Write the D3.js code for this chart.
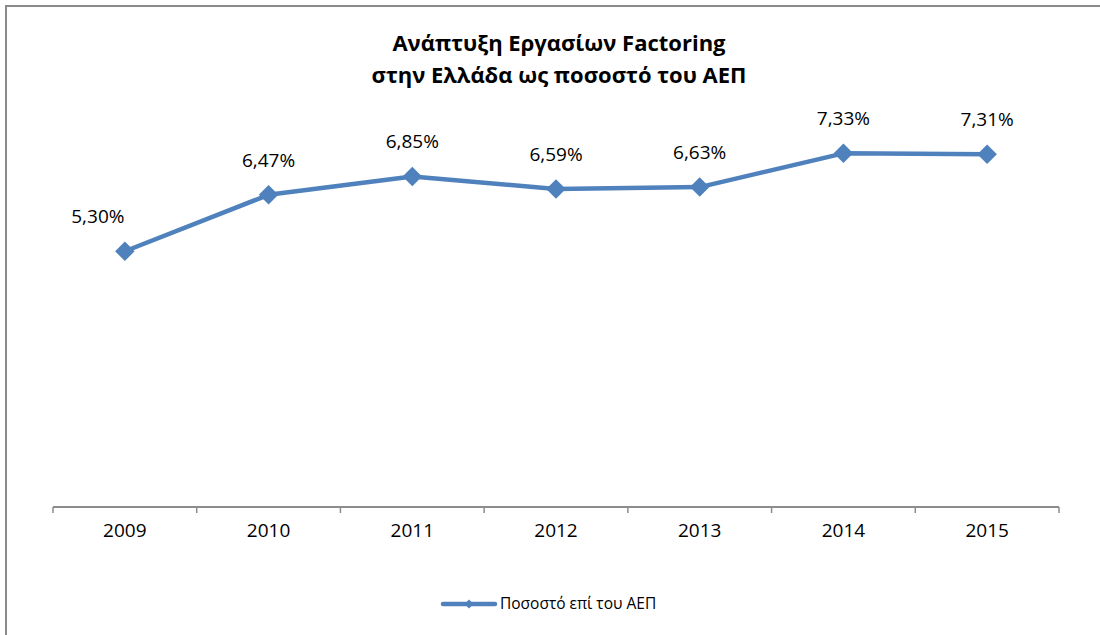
<!DOCTYPE html>
<html>
<head>
<meta charset="utf-8">
<script src="https://cdn.jsdelivr.net/npm/d3@7"></script>
<style>
  body { margin: 0; background: #fff; }
  svg { display: block; font-family: "Open Sans", sans-serif; }
</style>
</head>
<body>
<div id="chart"></div>
<script>
// chart data
const years = ["2009", "2010", "2011", "2012", "2013", "2014", "2015"];
const shareOfGdp = [5.30, 6.47, 6.85, 6.59, 6.63, 7.33, 7.31];
const titleLines = ["Ανάπτυξη Εργασίων Factoring", "στην Ελλάδα ως ποσοστό του ΑΕΠ"];
const seriesName = "Ποσοστό επί του ΑΕΠ";

const width = 1100, height = 635;
const margin = { top: 121, right: 41, bottom: 128, left: 53 };
const blue = "#4F81BD";
const axisGrey = "#8c8c8c";

const svg = d3.select("#chart").append("svg")
  .attr("width", width)
  .attr("height", height);

// outer frame (only top and left edges visible in the crop)
svg.append("path")
  .attr("d", `M6,${height} V6 H${width}`)
  .attr("fill", "none")
  .attr("stroke", "#8a8a8a")
  .attr("stroke-width", 2);

// title
svg.append("g").selectAll("text")
  .data(titleLines)
  .enter()
  .append("text")
  .attr("x", 559)
  .attr("y", (d, i) => 51 + i * 32)
  .attr("text-anchor", "middle")
  .attr("font-weight", "bold")
  .attr("font-size", "22px")
  .attr("fill", "#000")
  .text(d => d);

const plotW = width - margin.left - margin.right;
const plotH = height - margin.top - margin.bottom;

const x = d3.scaleBand().domain(years).range([margin.left, margin.left + plotW]);
const y = d3.scaleLinear().domain([0, 8]).range([margin.top + plotH, margin.top]);

// x axis with ticks between categories
const axisY = y(0);
const xAxis = svg.append("g").attr("class", "x-axis");
xAxis.append("line")
  .attr("x1", x.range()[0]).attr("x2", x.range()[1])
  .attr("y1", axisY).attr("y2", axisY)
  .attr("stroke", axisGrey).attr("stroke-width", 2);

const boundaries = years.map(d => x(d)).concat([x.range()[1]]);
xAxis.selectAll(".tick-mark")
  .data(boundaries)
  .enter()
  .append("line")
  .attr("class", "tick-mark")
  .attr("x1", d => d).attr("x2", d => d)
  .attr("y1", axisY).attr("y2", axisY + 6)
  .attr("stroke", axisGrey).attr("stroke-width", 1.5);

xAxis.selectAll(".tick-label")
  .data(years)
  .enter()
  .append("text")
  .attr("class", "tick-label")
  .attr("x", d => x(d) + x.bandwidth() / 2)
  .attr("y", axisY + 30)
  .attr("text-anchor", "middle")
  .attr("font-size", "19px")
  .attr("fill", "#000")
  .text(d => d);

// line series
const points = years.map((d, i) => ({ year: d, value: shareOfGdp[i] }));
const line = d3.line()
  .x(d => x(d.year) + x.bandwidth() / 2)
  .y(d => y(d.value));

svg.append("path")
  .datum(points)
  .attr("d", line)
  .attr("fill", "none")
  .attr("stroke", blue)
  .attr("stroke-width", 4.5)
  .attr("stroke-linejoin", "round");

svg.selectAll(".marker")
  .data(points)
  .enter()
  .append("path")
  .attr("class", "marker")
  .attr("transform", d => `translate(${x(d.year) + x.bandwidth() / 2},${y(d.value)}) rotate(45)`)
  .attr("d", d3.symbol().type(d3.symbolSquare).size(190))
  .attr("fill", blue);

// data labels
const fmt = v => v.toFixed(2).replace(".", ",") + "%";
svg.selectAll(".data-label")
  .data(points)
  .enter()
  .append("text")
  .attr("class", "data-label")
  .attr("x", (d, i) => x(d.year) + x.bandwidth() / 2 - (i === 0 ? 27 : 0))
  .attr("y", d => y(d.value) - 28)
  .attr("text-anchor", "middle")
  .attr("font-size", "19px")
  .attr("fill", "#000")
  .text(d => fmt(d.value));

// legend
const legend = svg.append("g").attr("transform", "translate(443,604)");
legend.append("line")
  .attr("x1", 0).attr("x2", 52)
  .attr("y1", 0).attr("y2", 0)
  .attr("stroke", blue).attr("stroke-width", 4.5)
  .attr("stroke-linecap", "round");
legend.append("path")
  .attr("transform", "translate(26,0) rotate(45)")
  .attr("d", d3.symbol().type(d3.symbolSquare).size(40))
  .attr("fill", blue);
legend.append("text")
  .attr("x", 57)
  .attr("y", 5)
  .attr("font-size", "15.5px")
  .attr("fill", "#000")
  .text(seriesName);
</script>
</body>
</html>
